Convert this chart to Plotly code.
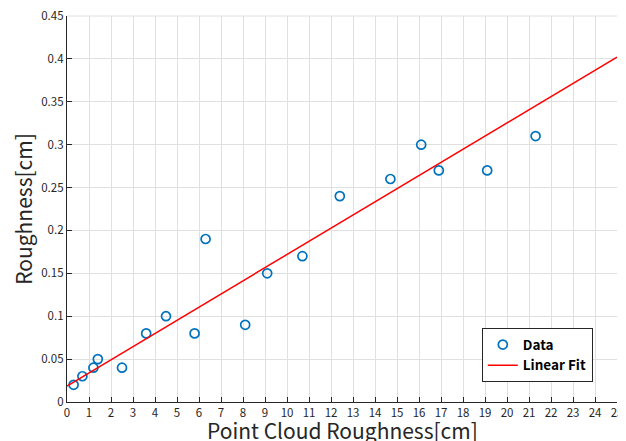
import plotly.graph_objects as go

point_cloud_roughness = [0.3, 0.7, 1.2, 1.4, 2.5, 3.6, 4.5, 5.8, 6.3, 8.1, 9.1, 10.7,
                         12.4, 14.7, 16.1, 16.9, 19.1, 21.3]
roughness = [0.02, 0.03, 0.04, 0.05, 0.04, 0.08, 0.10, 0.08, 0.19, 0.09, 0.15, 0.17,
             0.24, 0.26, 0.30, 0.27, 0.27, 0.31]
# linear fit coefficients
fit_intercept = 0.0186
fit_slope = 0.01534
fit_x = [0, 25]
x_ticks = list(range(0, 26))
y_ticks = [0, 0.05, 0.1, 0.15, 0.2, 0.25, 0.3, 0.35, 0.4, 0.45]
y_tick_labels = ["0", "0.05", "0.1", "0.15", "0.2", "0.25", "0.3", "0.35", "0.4", "0.45"]
x_title = "Point Cloud Roughness[cm]"
y_title = "Roughness[cm]"

fit_y = [fit_intercept + fit_slope * v for v in fit_x]

font = "Noto Sans CJK JP"

fig = go.Figure()
fig.add_trace(go.Scatter(
    x=point_cloud_roughness, y=roughness, mode="markers", name="Data",
    marker=dict(symbol="circle-open", size=9, color="#0072BD", line=dict(width=1.7, color="#0072BD")),
))
fig.add_trace(go.Scatter(
    x=fit_x, y=fit_y, mode="lines", name="Linear Fit",
    line=dict(color="#FF0000", width=1.5),
))

# the page body adds an 8px offset; size the figure so the plot area lands as in the reference
fig.update_layout(
    width=618, height=433,
    margin=dict(l=59, r=9, t=7.5, b=39.3, autoexpand=False),
    paper_bgcolor="white", plot_bgcolor="white",
    font=dict(family=font, color="#262626", size=11),
    showlegend=True,
    legend=dict(
        x=0.956, y=0.051, xanchor="right", yanchor="bottom",
        bgcolor="white", bordercolor="#262626", borderwidth=1,
        font=dict(family=font, size=13.5, color="#000000", weight="bold"),
        tracegroupgap=0, itemwidth=30,
    ),
)
fig.update_xaxes(
    range=[0, 25], tickvals=x_ticks, ticktext=[str(v) for v in x_ticks],
    showgrid=True, gridcolor="#e0e0e0", gridwidth=1,
    showline=True, linecolor="#262626", linewidth=1.3,
    ticks="inside", ticklen=5, tickcolor="#262626",
    zeroline=False, mirror=False, automargin=False,
    ticklabeloverflow="allow",
    tickfont=dict(family=font, size=11.5, color="#262626"),
)
fig.update_yaxes(
    range=[0, 0.45], tickvals=y_ticks, ticktext=y_tick_labels,
    showgrid=True, gridcolor="#e0e0e0", gridwidth=1,
    showline=True, linecolor="#262626", linewidth=1.3,
    ticks="inside", ticklen=5, tickcolor="#262626",
    zeroline=False, mirror=False, automargin=False,
    ticklabeloverflow="allow",
    title=dict(text=y_title, font=dict(family=font, size=21, color="#262626"), standoff=6),
    tickfont=dict(family=font, size=11.5, color="#262626"),
)
fig.add_annotation(
    text=x_title, xref="paper", yref="paper", x=0.5, y=0,
    xanchor="center", yanchor="middle", yshift=-27.5, showarrow=False,
    font=dict(family=font, size=21, color="#262626"),
)
fig.add_shape(type="line", xref="paper", yref="paper", x0=0, x1=1, y0=1, y1=1,
              line=dict(color="#e0e0e0", width=1))

fig.write_html("out.html")
